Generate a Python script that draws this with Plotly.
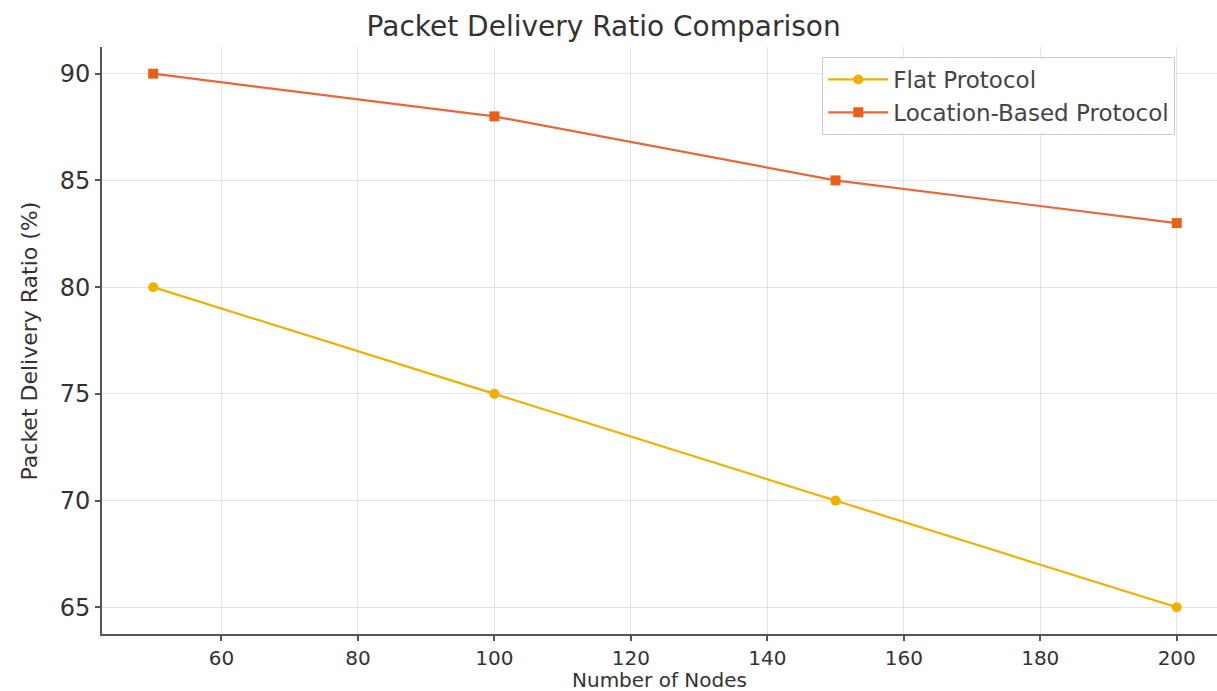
import plotly.graph_objects as go

nodes = [50, 100, 150, 200]
flat_pdr = [80, 75, 70, 65]
loc_pdr = [90, 88, 85, 83]
x_ticks = [60, 80, 100, 120, 140, 160, 180, 200]
y_ticks = [65, 70, 75, 80, 85, 90]

FONT = "DejaVu Sans, Verdana, sans-serif"

fig = go.Figure()
fig.add_trace(go.Scatter(
    x=nodes, y=flat_pdr, mode="lines+markers", name="Flat Protocol",
    line=dict(color="#f0b000", width=2.2),
    marker=dict(symbol="circle", size=10, color="#f0b000"),
))
fig.add_trace(go.Scatter(
    x=nodes, y=loc_pdr, mode="lines+markers", name="Location-Based Protocol",
    line=dict(color="#e8663a", width=2.2),
    marker=dict(symbol="square", size=10, color="#e8601c"),
))

fig.update_layout(
    width=1217, height=691,
    margin=dict(l=102, r=0, t=47, b=57, autoexpand=False),
    paper_bgcolor="white", plot_bgcolor="white",
    font=dict(family=FONT, color="#333333"),
    title=dict(text="Packet Delivery Ratio Comparison", x=0.496, xanchor="center",
               y=0.962, yanchor="middle", font=dict(size=28, family=FONT, color="#333333")),
    legend=dict(x=0.646, y=0.983, xanchor="left", yanchor="top",
                bgcolor="rgba(255,255,255,0.9)", bordercolor="#cccccc", borderwidth=1,
                font=dict(size=23, family=FONT, color="#444444"),
                tracegroupgap=0, itemwidth=60),
    showlegend=True,
    annotations=[
        dict(text="Number of Nodes", xref="paper", yref="paper", x=0.5, y=-0.078,
             xanchor="center", yanchor="middle", showarrow=False,
             font=dict(size=20, family=FONT, color="#333333")),
        dict(text="Packet Delivery Ratio (%)", xref="paper", yref="paper", x=-0.0646, y=0.5,
             xanchor="center", yanchor="middle", showarrow=False, textangle=-90,
             font=dict(size=22, family=FONT, color="#333333")),
    ],
)
fig.update_xaxes(
    range=[42.5, 205.9], tickvals=x_ticks, ticktext=[str(v) for v in x_ticks],
    showline=True, linecolor="#555555", linewidth=2, mirror=False, automargin=False,
    ticks="outside", ticklen=5, tickcolor="#555555", tickwidth=1.5,
    showgrid=True, gridcolor="#e3e3e3", gridwidth=1, zeroline=False,
    tickfont=dict(size=20, family=FONT, color="#333333"),
)
fig.update_yaxes(
    range=[63.75, 91.25], tickvals=y_ticks, ticktext=[str(v) for v in y_ticks],
    showline=True, linecolor="#555555", linewidth=2, mirror=False, automargin=False,
    ticks="outside", ticklen=5, tickcolor="#555555", tickwidth=1.5,
    showgrid=True, gridcolor="#e3e3e3", gridwidth=1, zeroline=False,
    tickfont=dict(size=24, family=FONT, color="#333333"),
)

fig.write_html("out.html")
